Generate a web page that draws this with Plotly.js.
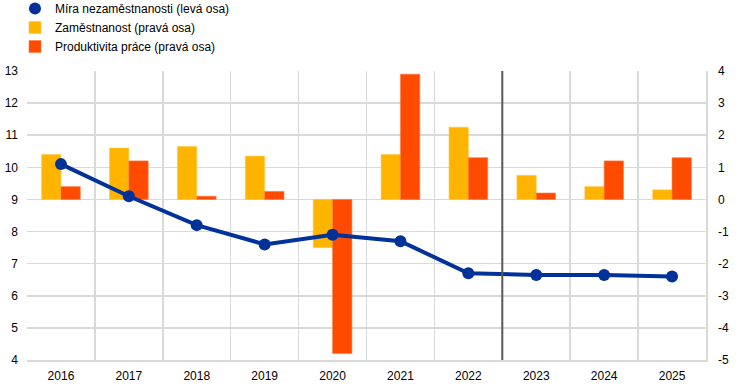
<!DOCTYPE html>
<html>
<head>
<meta charset="utf-8">
<script src="https://cdn.plot.ly/plotly-3.0.1.min.js"></script>
<style>html,body{margin:0;padding:0;background:#fff;}#chart{width:744px;height:390px;}</style>
</head>
<body>
<div id="chart"></div>
<script>
const years = ["2016","2017","2018","2019","2020","2021","2022","2023","2024","2025"];
const unemployment = [10.1, 9.1, 8.2, 7.6, 7.9, 7.7, 6.7, 6.65, 6.65, 6.6];
const employment = [1.4, 1.6, 1.65, 1.35, -1.5, 1.4, 2.25, 0.75, 0.4, 0.3];
const productivity = [0.4, 1.2, 0.1, 0.25, -4.8, 3.9, 1.3, 0.2, 1.2, 1.3];
const names = ["Míra nezaměstnanosti (levá osa)", "Zaměstnanost (pravá osa)", "Produktivita práce (pravá osa)"];
const leftTicks = [4,5,6,7,8,9,10,11,12,13];
const leftTickText = ["4","5","6","7","8","9","10","11","12","13"];
const rightTicks = [-5,-4,-3,-2,-1,0,1,2,3,4];
const rightTickText = ["-5","-4","-3","-2","-1","0","1","2","3","4"];

const blue = "#003299", yellow = "#FFB400", orange = "#FF4B00";

const traces = [
  {type:"scatter", mode:"markers", x:[null], y:[null], name:names[0], yaxis:"y2", marker:{color:blue, size:12}, showlegend:true, hoverinfo:"skip"},
  {type:"bar", x:years, y:employment, name:names[1], yaxis:"y", marker:{color:yellow, line:{color:"#FFC94D", width:0.6}}},
  {type:"bar", x:years, y:productivity, name:names[2], yaxis:"y", marker:{color:orange, line:{color:"#FF7A40", width:0.6}}},
  {type:"scatter", mode:"lines+markers", x:years, y:unemployment, name:names[0], yaxis:"y2", showlegend:false,
   line:{color:blue, width:4}, marker:{color:blue, size:12}}
];

const layout = {
  width:744, height:390,
  margin:{l:27, r:38, t:71, b:30, autoexpand:false},
  paper_bgcolor:"#fff", plot_bgcolor:"#fff",
  font:{family:"Liberation Sans, Arial, sans-serif", size:12, color:"#000"},
  barmode:"group", bargap:0.43, bargroupgap:0,
  showlegend:true,
  legend:{x:-0.0177, xref:"paper", y:1.2664, yref:"paper", yanchor:"top", xanchor:"left",
          traceorder:"normal", font:{size:12}, itemwidth:30, tracegroupgap:0, bgcolor:"rgba(0,0,0,0)"},
  xaxis:{type:"category", range:[-0.5, 9.5], tickson:"boundaries", ticks:"", showgrid:true, gridcolor:"#d9d9d9", gridwidth:1.5,
         showline:true, linecolor:"#d9d9d9", linewidth:1.5, tickfont:{size:12}, ticklabelstandoff:4, fixedrange:true},
  yaxis:{range:[-5,4], tickvals:rightTicks, ticktext:rightTickText, side:"right", showgrid:true, gridcolor:"#d9d9d9", gridwidth:1.5,
         zeroline:false, ticks:"", showline:true, linecolor:"#d9d9d9", linewidth:1.5, tickfont:{size:12}, ticklabelstandoff:8},
  yaxis2:{range:[4,13], tickvals:leftTicks, ticktext:leftTickText, overlaying:"y", side:"left", showgrid:false, zeroline:false,
          ticks:"", showline:false, tickfont:{size:12}, ticklabelstandoff:8},
  shapes:[{type:"line", xref:"x", yref:"paper", x0:6.5, x1:6.5, y0:0, y1:1, line:{color:"#595959", width:2}}]
};

Plotly.newPlot("chart", traces, layout, {displayModeBar:false, staticPlot:true});
</script>
</body>
</html>
